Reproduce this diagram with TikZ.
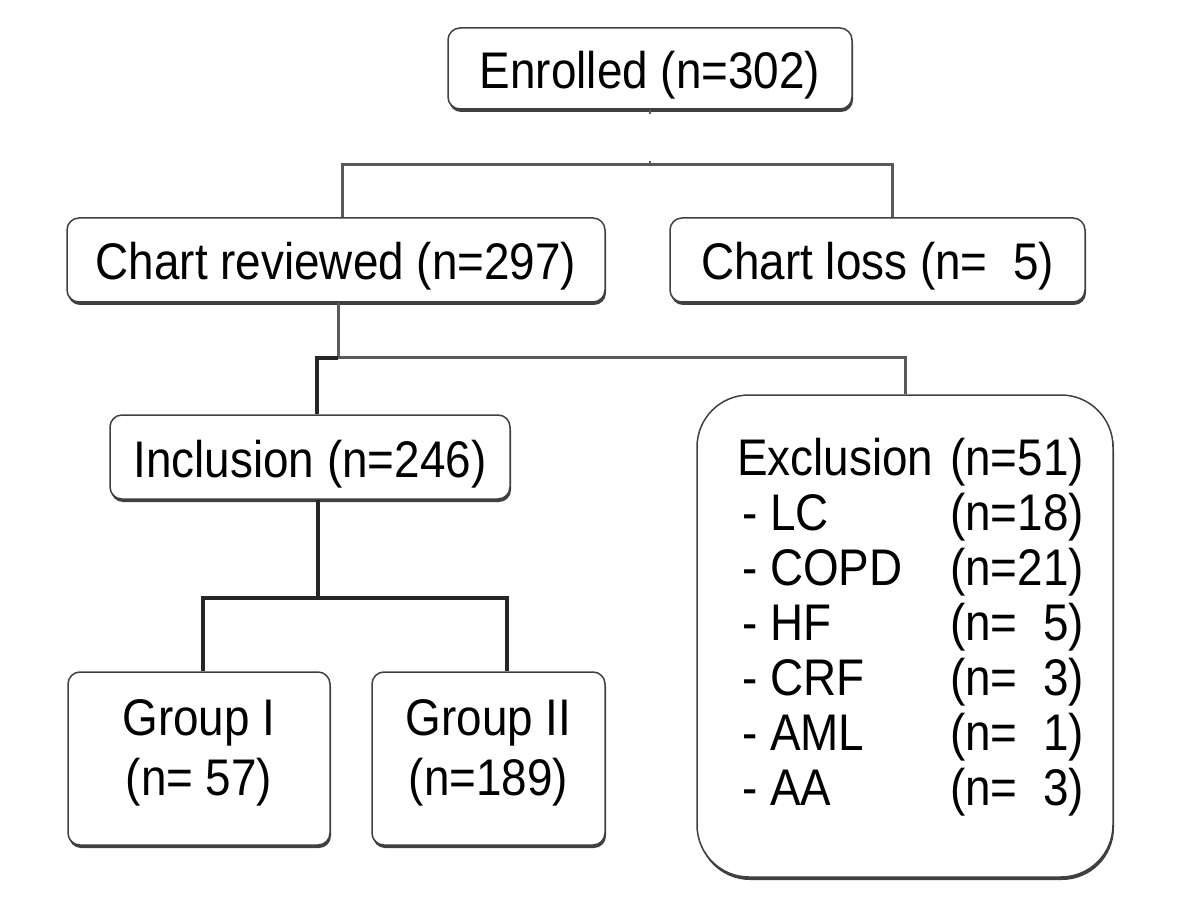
\documentclass[tikz,border=0pt]{standalone}
\usepackage{fontspec}
\setmainfont{Liberation Sans}[FakeStretch=0.89]
\usetikzlibrary{shadows}

\tikzset{every picture/.style={line width=0.75pt}}
\tikzset{
  box/.style={draw=black!75, line width=1.5pt, rounded corners=12pt, fill=white, align=center, inner sep=0pt,
    drop shadow={shadow xshift=1pt, shadow yshift=-3pt, fill=black!75, opacity=1}},
  oneline/.style={text height=45pt, text depth=5pt},
  link/.style={draw=black!65, line width=3pt},
  darklink/.style={draw=black!85, line width=3.5pt},
}

\begin{document}
\begin{tikzpicture}[x=1pt,y=1pt,yscale=-1,xscale=1, font=\fontsize{51.5}{60}\selectfont]
        \useasboundingbox (0,0) rectangle (1200,917);

        %Shape: Rounded Rect [id:enrolled]
        \node [box, oneline, minimum width=404, minimum height=81] (enrolled) at (650,68.5) {Enrolled (n=302)};
        %Shape: Rounded Rect [id:reviewed]
        \node [box, oneline, minimum width=538, minimum height=84] (reviewed) at (336,260) {Chart reviewed (n=297)};
        %Shape: Rounded Rect [id:loss]
        \node [box, oneline, minimum width=415, minimum height=84] (loss) at (877.5,260) {Chart loss (n=~~5)};
        %Shape: Rounded Rect [id:inclusion]
        \node [box, oneline, minimum width=400, minimum height=84] (inclusion) at (310,457) {Inclusion (n=246)};
        %Shape: Rounded Rect [id:exclusion]
        \node [box, rounded corners=52pt, minimum width=416, minimum height=482, font=\fontsize{51.5}{55}\selectfont] (exclusion) at (905,636)
            {\begin{tabular}{@{\hspace{11pt}}p{213pt}@{}l@{}}
             Exclusion & (n=51)\\
             \hspace*{5pt}- LC & (n=18)\\
             \hspace*{5pt}- COPD & (n=21)\\
             \hspace*{5pt}- HF & (n=~~5)\\
             \hspace*{5pt}- CRF & (n=~~3)\\
             \hspace*{5pt}- AML & (n=~~1)\\
             \hspace*{5pt}- AA & (n=~~3)\\[13pt]
             \end{tabular}};
        %Shape: Rounded Rect [id:groupI]
        \node [box, minimum width=262, minimum height=173] (groupI) at (199,758.5)
            {\begin{tabular}{@{}c@{}} Group I\\ (n= 57)\\[10pt]\end{tabular}};
        %Shape: Rounded Rect [id:groupII]
        \node [box, minimum width=233, minimum height=173] (groupII) at (488.5,758.5)
            {\begin{tabular}{@{}c@{}} Group II\\ (n=189)\\[10pt]\end{tabular}};

        %Straight Lines [id:split1]
        \coordinate (split1) at (342,165);
        \coordinate (split1r) at (892,165);
        \draw [link] (reviewed.north -| split1) -- (split1) -- (split1r) -- (loss.north -| split1r);
        \draw [link, line width=2pt] (enrolled.south) -- ++(0,4);
        \draw [link, line width=2pt] (enrolled.south |- split1) -- ++(0,-4);

        %Straight Lines [id:split2]
        \coordinate (split2) at (338,358);
        \coordinate (split2l) at (317,358);
        \draw [link] (reviewed.south -| split2) -- (split2) -| (exclusion.north);
        \draw [darklink] (split2) -- (split2l) -- (inclusion.north -| split2l);

        %Straight Lines [id:split3]
        \coordinate (split3) at (318,598);
        \coordinate (split3l) at (203,598);
        \coordinate (split3r) at (507,598);
        \draw [darklink] (inclusion.south -| split3) -- (split3);
        \draw [darklink] (groupI.north -| split3l) -- (split3l) -- (split3r) -- (groupII.north -| split3r);
\end{tikzpicture}
\end{document}
